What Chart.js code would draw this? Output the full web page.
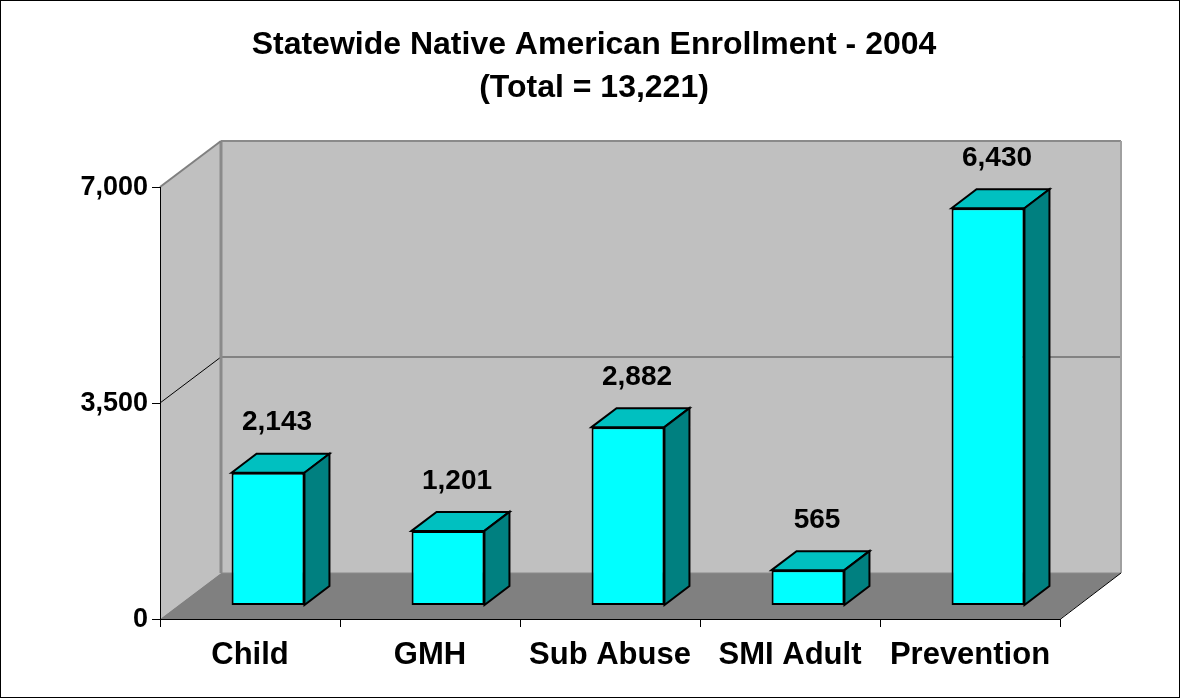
<!DOCTYPE html>
<html lang="en">
<head>
  <meta charset="UTF-8">
  <title>Statewide Native American Enrollment - 2004</title>
  <script src="https://cdn.jsdelivr.net/npm/chart.js"></script>
  <style>
    body { margin: 0; background: #fff; }
    #wrap { width: 1180px; height: 698px; }
  </style>
</head>
<body>
  <div id="wrap"><canvas id="enrollChart" width="1180" height="698"></canvas></div>

  <script>
    // chart data
    const categories = ['Child', 'GMH', 'Sub Abuse', 'SMI Adult', 'Prevention'];
    const enrollment = [2143, 1201, 2882, 565, 6430];
    const yTicks = [0, 3500, 7000];
    const yTickLabels = ['0', '3,500', '7,000'];
    const titleLines = ['Statewide Native American Enrollment - 2004', '(Total = 13,221)'];

    const FONT = '"Liberation Sans", Arial, sans-serif';
    const wallDepth = { x: 61, y: -46 };   // back wall offset
    const barShift = { x: 18, y: -14 };    // bar front face offset
    const barDepth = { x: 25, y: -19 };    // bar thickness

    function poly(ctx, pts, fill, stroke, lw) {
      ctx.beginPath();
      ctx.moveTo(pts[0][0], pts[0][1]);
      for (let i = 1; i < pts.length; i++) ctx.lineTo(pts[i][0], pts[i][1]);
      ctx.closePath();
      if (fill) { ctx.fillStyle = fill; ctx.fill(); }
      if (stroke) { ctx.strokeStyle = stroke; ctx.lineWidth = lw || 1; ctx.stroke(); }
    }
    function line(ctx, x1, y1, x2, y2, color, lw) {
      ctx.beginPath();
      ctx.moveTo(x1, y1);
      ctx.lineTo(x2, y2);
      ctx.strokeStyle = color;
      ctx.lineWidth = lw;
      ctx.stroke();
    }

    // draws the 3D box, the axes and all text around the Chart.js bars
    const box3d = {
      id: 'box3d',
      beforeDatasetsDraw(chart) {
        const ctx = chart.ctx;
        const a = chart.chartArea;
        const ys = chart.scales.y;
        const xs = chart.scales.x;
        const dx = wallDepth.x, dy = wallDepth.y;
        const y0 = ys.getPixelForValue(yTicks[0]);
        const yTop = ys.getPixelForValue(yTicks[yTicks.length - 1]);

        ctx.save();
        ctx.lineJoin = 'miter';
        // back wall
        poly(ctx, [[a.left + dx, yTop + dy], [a.right + dx, yTop + dy], [a.right + dx, y0 + dy], [a.left + dx, y0 + dy]], '#C0C0C0');
        // side wall
        poly(ctx, [[a.left, y0], [a.left, yTop], [a.left + dx, yTop + dy], [a.left + dx, y0 + dy]], '#C0C0C0');
        // floor
        poly(ctx, [[a.left, y0], [a.left + dx, y0 + dy], [a.right + dx, y0 + dy], [a.right, y0]], '#808080');

        // gridlines on walls
        yTicks.slice(1, -1).forEach(v => {
          const p = ys.getPixelForValue(v);
          line(ctx, a.left + dx, p + dy, a.right + dx, p + dy, '#6E6E6E', 1.5);
          line(ctx, a.left, p, a.left + dx, p + dy, '#000', 1);
        });

        // wall edges
        line(ctx, a.left + dx, yTop + dy, a.right + dx, yTop + dy, '#8A8A8A', 2);
        line(ctx, a.right + dx, yTop + dy, a.right + dx, y0 + dy, '#A0A0A0', 2);
        line(ctx, a.left + dx, yTop + dy, a.left + dx, y0 + dy, '#8A8A8A', 3);
        line(ctx, a.left, yTop, a.left + dx, yTop + dy, '#808080', 2);
        line(ctx, a.left + dx, y0 + dy, a.right + dx, y0 + dy, '#8A8A8A', 1);

        // axes
        line(ctx, a.left + 0.5, yTop, a.left + 0.5, y0 + 0.5, '#000', 1);
        line(ctx, a.left, y0 + 0.5, a.right, y0 + 0.5, '#000', 1);
        line(ctx, a.right, y0 + 0.5, a.right + dx, y0 + dy, '#000', 1);
        yTicks.forEach(v => {
          const p = Math.round(ys.getPixelForValue(v)) + 0.5;
          line(ctx, a.left - 8, p, a.left, p, '#000', 1);
        });
        const step = (a.right - a.left) / categories.length;
        for (let i = 0; i <= categories.length; i++) {
          const px = Math.round(xs.getPixelForValue(0) - step / 2 + i * step) + 0.5;
          line(ctx, px, y0, px, y0 + 8, '#000', 1);
        }
        ctx.restore();

        // bar tops and sides, then let Chart.js draw the front faces in the same shifted frame
        ctx.save();
        ctx.translate(barShift.x, barShift.y);
        ctx.lineJoin = 'miter';
        const meta = chart.getDatasetMeta(0);
        meta.data.forEach(el => {
          const l = el.x - el.width / 2, r = el.x + el.width / 2;
          const t = el.y, b = el.base;
          const bx = barDepth.x, by = barDepth.y;
          poly(ctx, [[l, t], [l + bx, t + by], [r + bx, t + by], [r, t]], '#00C0C0', '#000', 2);
          poly(ctx, [[r, t], [r + bx, t + by], [r + bx, b + by], [r, b]], '#008080', '#000', 2);
        });
      },
      afterDatasetsDraw(chart) {
        const ctx = chart.ctx;
        ctx.restore();
        const a = chart.chartArea;
        const ys = chart.scales.y;
        const xs = chart.scales.x;

        ctx.save();
        ctx.fillStyle = '#000';

        // value labels
        ctx.font = 'bold 28px ' + FONT;
        ctx.textAlign = 'center';
        ctx.textBaseline = 'middle';
        const meta = chart.getDatasetMeta(0);
        meta.data.forEach((el, i) => {
          ctx.fillText(enrollment[i].toLocaleString('en-US'), el.x + barShift.x + 9, el.y + barShift.y - 50);
        });

        // category labels
        ctx.font = 'bold 31px ' + FONT;
        ctx.textBaseline = 'alphabetic';
        categories.forEach((c, i) => {
          ctx.fillText(c, xs.getPixelForValue(i), a.bottom + 45);
        });

        // value axis labels
        ctx.font = 'bold 27px ' + FONT;
        ctx.textAlign = 'right';
        ctx.textBaseline = 'middle';
        yTicks.forEach((v, i) => {
          ctx.fillText(yTickLabels[i], a.left - 12, ys.getPixelForValue(v) + 1);
        });

        // title
        ctx.font = 'bold 32px ' + FONT;
        ctx.textAlign = 'center';
        ctx.textBaseline = 'alphabetic';
        ctx.fillText(titleLines[0], 594, 54);
        ctx.fillText(titleLines[1], 594, 97);

        // outer frame
        ctx.strokeStyle = '#000';
        ctx.lineWidth = 1;
        ctx.strokeRect(0.5, 0.5, chart.width - 1, chart.height - 1);
        ctx.restore();
      }
    };

    new Chart(document.getElementById('enrollChart'), {
      type: 'bar',
      data: {
        labels: categories,
        datasets: [{
          data: enrollment,
          backgroundColor: '#00FFFF',
          borderColor: '#000',
          borderWidth: 2,
          borderSkipped: false,
          barPercentage: 0.405,
          categoryPercentage: 1.0
        }]
      },
      options: {
        responsive: false,
        animation: false,
        events: [],
        layout: { padding: { left: 160, top: 187, right: 120, bottom: 79 } },
        plugins: { legend: { display: false }, tooltip: { enabled: false }, title: { display: false } },
        scales: {
          x: { display: false },
          y: { display: false, min: 0, max: 7000 }
        }
      },
      plugins: [box3d]
    });
  </script>
</body>
</html>
